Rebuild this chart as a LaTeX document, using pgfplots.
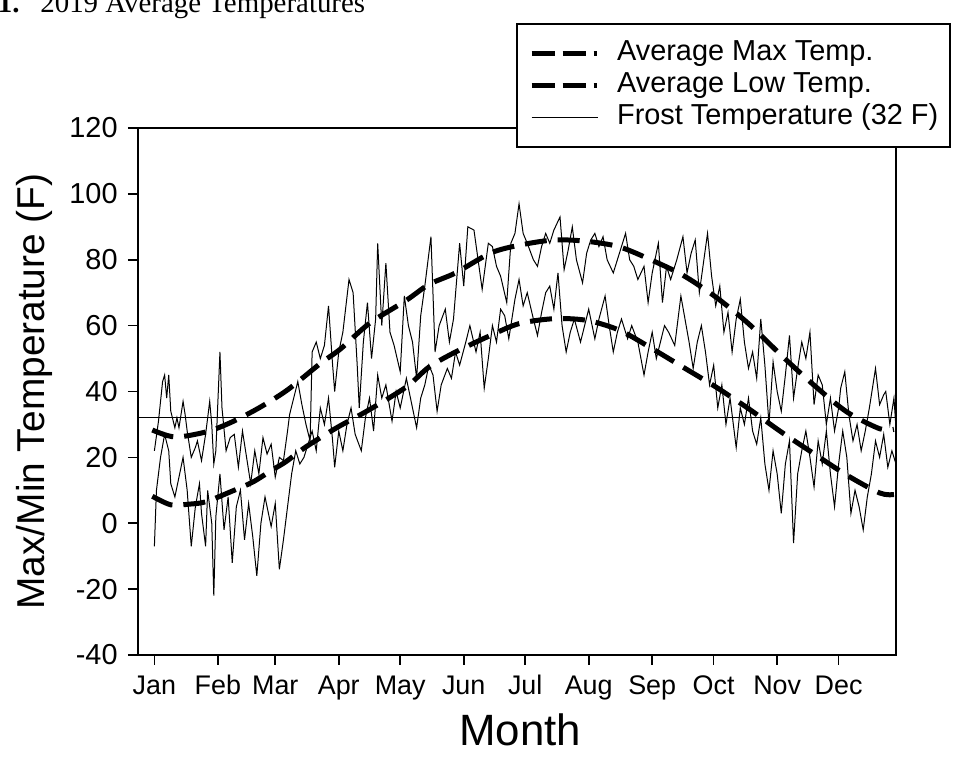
\documentclass[border=0pt]{standalone}
\usepackage{pgfplots}
\pgfplotsset{compat=1.18}
\usepackage{fontspec}
\setmainfont{Liberation Sans}
\newfontfamily\serif{Liberation Serif}

\begin{document}
\begin{tikzpicture}
\node[anchor=base east, inner sep=0pt, font=\serif\fontsize{14.5}{16}\selectfont\bfseries] at (10bp,375bp) {1.};
\node[anchor=base west, inner sep=0pt, font=\serif\fontsize{14.5}{16}\selectfont] at (20bp,375bp) {2019 Average Temperatures};
\begin{axis}[
  at={(69bp,54bp)}, anchor=south west,
  scale only axis, width=379bp, height=263.5bp,
  xmin=-7, xmax=363, ymin=-40, ymax=120,
  xtick={1,32,60,91,121,152,182,213,244,274,305,335},
  xticklabels={Jan,Feb,Mar,Apr,May,Jun,Jul,Aug,Sep,Oct,Nov,Dec},
  ytick={-40,-20,0,20,40,60,80,100,120},
  yticklabels={-40,-20,0,20,40,60,80,100,120},
  xtick pos=bottom, ytick pos=left,
  tick align=outside, major tick length=5bp,
  tick style={line width=0.8bp, black},
  axis line style={line width=0.8bp},
  x tick label style={font=\fontsize{13.5}{15}\selectfont, inner sep=0pt,
    text height=9.7bp, text depth=2.9bp, yshift=-5bp},
  y tick label style={font=\fontsize{14.5}{16}\selectfont, inner sep=0pt, xshift=-5bp},
  xlabel={Month},
  xlabel style={at={(axis description cs:0.504,0)}, anchor=base, yshift=-45bp,
    font=\fontsize{22}{24}\selectfont},
  ylabel={Max/Min Temperature (F)},
  ylabel style={at={(axis description cs:-0.136,0.5)}, anchor=center,
    font=\fontsize{19.5}{22}\selectfont},
  legend style={at={(axis description cs:1.0726,1.199)}, anchor=north east,
    draw=black, line width=0.8bp, fill=white,
    font=\fontsize{14.5}{16}\selectfont,
    inner xsep=6bp, inner ysep=8bp, row sep=2.5bp, column sep=8.5bp,
    nodes={inner sep=0pt, text height=10.5bp, text depth=3bp}},
  legend cell align=left,
]
% daily maximum
\addplot[black, line width=0.5bp, forget plot] coordinates {
(1,22) (3,31) (5,43) (6,45) (7,38) (8,45) (9,34) (11,29) (12,32) (13,29)
(15,37) (16,33) (17,28) (19,20) (21,23) (22,25) (24,19) (26,27) (28,37) (29,30)
(30,18) (31,22) (33,52) (34,35) (36,22) (38,26) (40,27) (42,17) (44,28) (46,20)
(48,12) (50,22) (52,15) (54,26) (56,21) (58,24) (60,14) (62,20) (64,19) (66,28)
(67,33) (69,38) (71,43) (73,36) (75,30) (77,25) (78,52) (80,55) (82,50) (84,54)
(86,66) (88,48) (89,40) (91,52) (93,58) (96,74) (98,70) (100,48) (101,35) (103,55)
(105,67) (107,50) (109,62) (110,85) (112,60) (114,79) (116,58) (118,54) (121,46) (123,69)
(125,60) (127,55) (129,44) (131,63) (133,72) (136,87) (138,52) (140,60) (143,65) (145,55)
(147,62) (150,85) (152,72) (154,90) (157,89) (159,80) (161,71) (164,85) (166,84) (168,78)
(170,75) (173,67) (175,85) (177,88) (179,97) (181,88) (183,85) (186,80) (188,78) (190,84)
(192,88) (194,85) (196,89) (199,93) (201,77) (203,83) (205,90) (207,80) (210,73) (212,82)
(214,86) (216,88) (218,84) (220,87) (222,80) (225,76) (228,82) (231,88) (233,80) (235,78)
(237,74) (240,78) (242,67) (244,76) (247,85) (249,67) (251,78) (253,74) (256,80) (259,87)
(261,76) (263,82) (265,86) (267,70) (269,79) (271,88) (273,75) (275,66) (277,72) (279,58)
(281,64) (283,52) (285,62) (287,68) (289,55) (291,47) (293,52) (295,44) (297,62) (299,48)
(301,30) (303,49) (305,40) (307,34) (309,45) (311,57) (313,38) (315,47) (317,55) (319,50)
(321,58) (323,36) (325,45) (327,42) (329,30) (331,38) (333,28) (335,35) (336,41) (338,46)
(340,33) (342,25) (344,30) (346,22) (348,28) (350,35) (353,47) (355,36) (357,39) (358,40)
(360,30) (362,38) (363,29)
};
% daily minimum
\addplot[black, line width=0.5bp, forget plot] coordinates {
(1,-7) (2,10) (4,20) (6,27) (8,22) (9,12) (11,8) (13,14) (15,20) (17,10)
(19,-7) (21,5) (23,12) (24,3) (26,-7) (27,10) (29,0) (30,-22) (31,2) (33,15)
(35,-2) (37,8) (39,-12) (41,5) (43,10) (45,-5) (47,6) (49,-4) (51,-16) (53,0)
(55,8) (57,2) (58,-1) (60,6) (62,-14) (64,-5) (66,5) (68,15) (70,22) (72,18)
(74,20) (76,24) (78,28) (80,22) (82,35) (84,30) (86,38) (88,25) (89,17) (91,28)
(93,22) (95,30) (97,35) (99,27) (102,22) (104,32) (106,38) (108,28) (110,45) (112,38)
(114,42) (117,31) (119,40) (121,35) (124,44) (126,38) (129,29) (131,38) (133,42) (135,48)
(137,45) (139,34) (141,42) (144,47) (146,44) (148,52) (150,48) (153,55) (155,60) (158,52)
(160,58) (162,41) (164,50) (166,60) (168,55) (170,65) (172,63) (174,56) (177,68) (179,74)
(181,66) (183,70) (186,62) (188,57) (190,64) (192,70) (194,72) (196,65) (198,76) (200,60)
(202,52) (204,58) (206,62) (209,55) (211,60) (213,65) (216,56) (218,62) (221,69) (223,60)
(225,52) (227,58) (229,62) (232,56) (234,60) (237,55) (240,45) (242,52) (244,58) (246,50)
(248,55) (250,60) (252,58) (255,54) (258,69) (260,62) (262,55) (264,47) (266,55) (268,60)
(270,52) (272,42) (274,48) (276,35) (278,42) (280,30) (282,38) (284,28) (285,23) (287,35)
(289,30) (291,38) (293,28) (295,24) (297,32) (299,18) (301,10) (303,22) (305,15) (307,3)
(309,18) (311,25) (313,-6) (315,15) (317,22) (319,28) (321,20) (323,11) (325,25) (327,18)
(329,28) (331,15) (333,5) (335,18) (337,28) (339,20) (341,3) (343,10) (345,5) (347,-2)
(349,8) (351,15) (353,25) (355,20) (357,27) (359,17) (361,22) (363,18)
};
% average max
\addplot[black, line width=2.5bp, smooth, dash pattern=on 11bp off 5.5bp,
  legend image code/.code={\draw[line width=2.5bp, dash pattern=on 11.5bp off 4bp on 11.5bp off 4bp on 1.5bp off 20bp] (0bp,0bp) -- (33bp,0bp);}]
coordinates {
(0,28.3) (11,26.2) (26,27.7) (38,30.5) (52,35) (66,40.5) (82,48.5) (92,53) (106,60.7)
(124,67.7) (135,72.5) (148,76) (165,82) (179,84.4) (196,86) (212,85.6) (228,83.9)
(244,79.8) (259,75.3) (275,68.7) (291,60.6) (307,51) (323,41.9) (339,33.8) (355,28.7) (362,28.5)
};
\addlegendentry{Average Max Temp.}
% average low
\addplot[black, line width=2.5bp, smooth, dash pattern=on 11bp off 5.5bp,
  legend image code/.code={\draw[line width=2.5bp, dash pattern=on 11.5bp off 4bp on 11.5bp off 4bp on 1.5bp off 20bp] (0bp,0bp) -- (33bp,0bp);}]
coordinates {
(0,8.2) (9,5.6) (18,5.8) (26,6.5) (38,9.5) (49,12.5) (58,16) (65,18.6) (75,23.2) (90,29)
(106,34.5) (124,41.4) (135,47.4) (148,52) (165,57) (179,60.6) (196,62.1) (212,61.6)
(228,58.6) (244,53) (259,47.4) (275,41.4) (291,34.8) (307,27.7) (323,21.1) (339,14.6)
(355,9.2) (362,8.7)
};
\addlegendentry{Average Low Temp.}
% frost line
\addplot[black, line width=0.6bp,
  legend image code/.code={\draw[line width=0.6bp] (0bp,0bp) -- (33bp,0bp);}]
coordinates {(-7,32) (363,32)};
\addlegendentry{Frost Temperature (32 F)}
\end{axis}
\pgfresetboundingbox
\path (0bp,0bp) rectangle (477bp,381.5bp);
\end{tikzpicture}
\end{document}
